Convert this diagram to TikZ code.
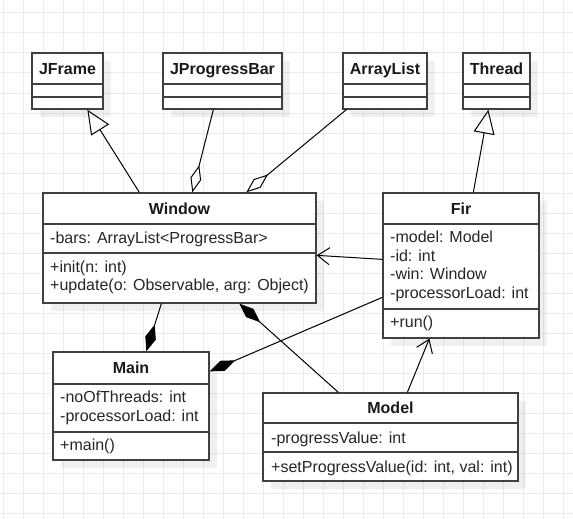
\documentclass[tikz,border=0pt]{standalone}
\usepackage{fontspec}
\setmainfont{Liberation Sans}
\usetikzlibrary{arrows.meta,shadows}

\tikzset{
  classbox/.style={draw=black!75, fill=white, line width=1.3pt, inner sep=0pt,
    drop shadow={shadow xshift=8pt, shadow yshift=-8pt, fill=black, opacity=0.06}},
  classname/.style={font=\fontsize{16}{18.7}\selectfont\bfseries, text=black!90,
    inner sep=0pt, text height=11.5pt, text depth=0pt},
  member/.style={font=\fontsize{16}{18.7}\selectfont, text=black!85, align=left,
    anchor=west, inner sep=0pt},
  divider/.style={draw=black!75, line width=1.3pt},
  gridline/.style={draw=black!8, line width=1pt},
  link/.style={draw=black, line width=1pt},
  inherit/.style={link, -{Triangle[open, length=24pt, width=21pt]}},
  aggregate/.style={link, {Diamond[open, length=28pt, width=11pt]}-},
  compose/.style={link, {Diamond[length=28pt, width=11pt]}-},
  assoc/.style={link, -{Straight Barb[length=12pt, width=17pt]}}
}

\begin{document}
\begin{tikzpicture}[x=1pt, y=-1pt]
\useasboundingbox (0,0) rectangle (573,519);
\fill[white] (0,0) rectangle (573,519);
\begin{scope}[shift={(3,13)}]
\draw[step=20pt, gridline] (-3,506) grid (570,-13);
\end{scope}

% superclasses
\node[classbox, minimum width=71pt, minimum height=56pt] (jframe) at (67.5,81) {};
\draw[divider] (32,84) -- (103,84);
\draw[divider] (32,97) -- (103,97);
\node[classname] (jframe-name) at (67.5,68.5) {JFrame};

\node[classbox, minimum width=119pt, minimum height=56pt] (jprogress) at (222.5,81) {};
\draw[divider] (163,84) -- (282,84);
\draw[divider] (163,97) -- (282,97);
\node[classname] (jprogress-name) at (222.5,68.5) {JProgressBar};

\node[classbox, minimum width=84pt, minimum height=56pt] (arraylist) at (385,81) {};
\draw[divider] (343,84) -- (427,84);
\draw[divider] (343,97) -- (427,97);
\node[classname] (arraylist-name) at (385,68.5) {ArrayList};

\node[classbox, minimum width=67pt, minimum height=56pt] (thread) at (496.5,81) {};
\draw[divider] (463,84) -- (530,84);
\draw[divider] (463,97) -- (530,97);
\node[classname] (thread-name) at (496.5,68.5) {Thread};

% Window
\node[classbox, minimum width=273pt, minimum height=110pt] (window) at (179.5,248) {};
\draw[divider] (43,224) -- (316,224);
\draw[divider] (43,253) -- (316,253);
\node[classname] (window-name) at (179.5,208.5) {Window};
\node[member] (window-attr) at (50,239) {-bars: ArrayList<ProgressBar>};
\node[member] (window-ops) at (50,277.5) {+init(n: int)\\+update(o: Observable, arg: Object)};

% Fir
\node[classbox, minimum width=156pt, minimum height=145pt] (fir) at (461,265.5) {};
\draw[divider] (383,224) -- (539,224);
\draw[divider] (383,309) -- (539,309);
\node[classname] (fir-name) at (461,208.5) {Fir};
\node[member] (fir-attr) at (390,266.5) {-model: Model\\-id: int\\-win: Window\\-processorLoad: int};
\node[member] (fir-ops) at (390,323) {+run()};

% Main
\node[classbox, minimum width=156pt, minimum height=108pt] (main) at (131,406) {};
\draw[divider] (53,384) -- (209,384);
\draw[divider] (53,432) -- (209,432);
\node[classname] (main-name) at (131,368) {Main};
\node[member] (main-attr) at (60,408) {-noOfThreads: int\\-processorLoad: int};
\node[member] (main-ops) at (60,446) {+main()};

% Model
\node[classbox, minimum width=255pt, minimum height=88pt] (model) at (390.5,437) {};
\draw[divider] (263,423) -- (518,423);
\draw[divider] (263,452) -- (518,452);
\node[classname] (model-name) at (390.5,408) {Model};
\node[member] (model-attr) at (271,439) {-progressValue: int};
\node[member] (model-ops) at (271,468) {+setProgressValue(id: int, val: int)};

% relations
\draw[inherit] ([xshift=97pt]window.north west) -- ([xshift=56pt]jframe.south west);
\draw[aggregate] ([xshift=150pt]window.north west) -- ([xshift=51pt]jprogress.south west);
\draw[aggregate] ([xshift=204pt]window.north west) -- ([xshift=4pt]arraylist.south west);
\draw[inherit] ([xshift=91pt]fir.north west) -- ([xshift=26pt]thread.south west);
\draw[assoc] ([yshift=-67pt]fir.north west) -- ([yshift=-63pt]window.north east);
\draw[assoc] ([xshift=145pt]model.north west) -- ([xshift=47pt]fir.south west);
\draw[compose] ([xshift=94pt]main.north west) -- ([xshift=119pt]window.south west);
\draw[compose] ([yshift=-20pt]main.north east) -- ([yshift=-105pt]fir.north west);
\draw[compose] ([xshift=197pt]window.south west) -- ([xshift=76pt]model.north west);
\end{tikzpicture}
\end{document}
